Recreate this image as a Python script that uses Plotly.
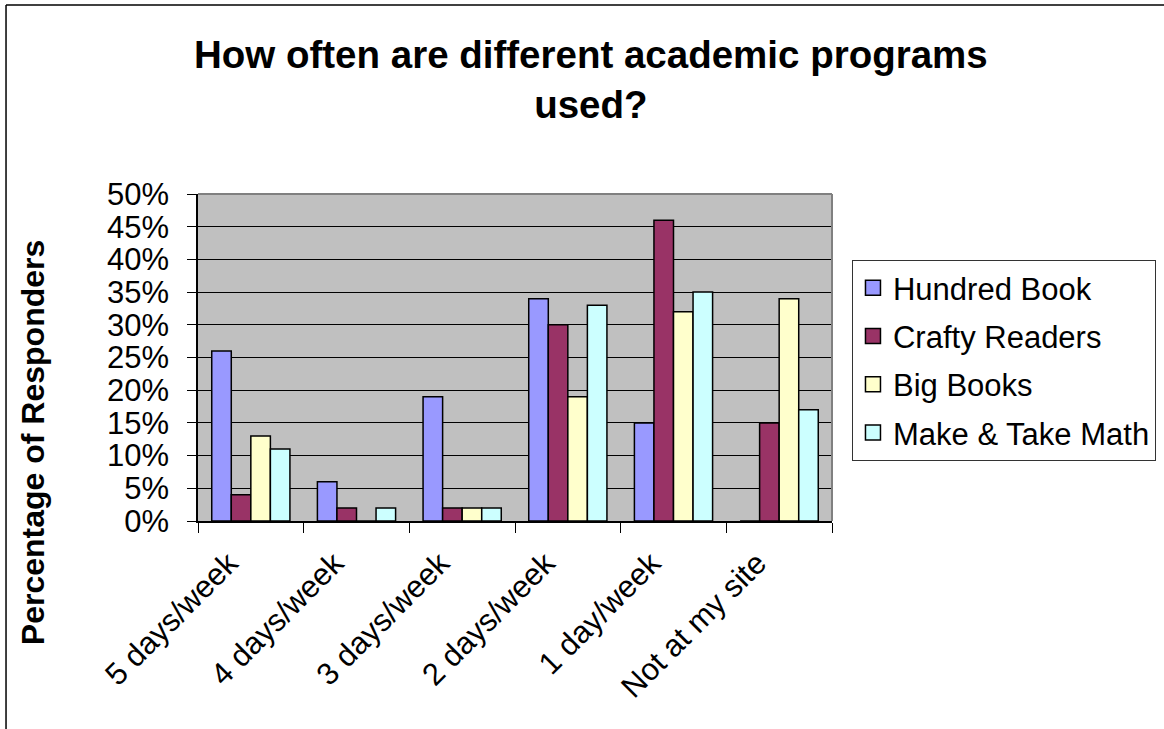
import plotly.graph_objects as go

# Frequency categories on the x axis
categories = ["5 days/week", "4 days/week", "3 days/week", "2 days/week", "1 day/week", "Not at my site"]

# Share of responders per program (fractions)
hundred_book = [0.26, 0.06, 0.19, 0.34, 0.15, 0.00]
crafty_readers = [0.04, 0.02, 0.02, 0.30, 0.46, 0.15]
big_books = [0.13, 0.00, 0.02, 0.19, 0.32, 0.34]
make_take_math = [0.11, 0.02, 0.02, 0.33, 0.35, 0.17]

series = [
    ("Hundred Book", hundred_book, "#9999FF"),
    ("Crafty Readers", crafty_readers, "#993366"),
    ("Big Books", big_books, "#FFFFCC"),
    ("Make & Take Math", make_take_math, "#CCFFFF"),
]

FONT = "Liberation Sans, Arial, sans-serif"

fig = go.Figure()
for i, (name, vals, color) in enumerate(series):
    fig.add_trace(go.Bar(
        name=name, x=categories, y=vals,
        marker=dict(color=color, line=dict(color="black", width=1.5)),
        showlegend=False,
    ))
    # square swatch for the legend entry
    fig.add_trace(go.Scatter(
        name=name, x=[None], y=[None], mode="markers",
        marker=dict(symbol="square", size=15, color=color,
                    line=dict(color="black", width=1.5)),
        legendgroup=f"g{i}", showlegend=True,
    ))

fig.update_layout(
    width=1164, height=729,
    margin=dict(l=198, r=332, t=194, b=208, autoexpand=False),
    paper_bgcolor="white",
    plot_bgcolor="#C0C0C0",
    barmode="group",
    bargap=0.26,
    bargroupgap=0,
    font=dict(family=FONT, color="black", size=31),
    showlegend=True,
    legend=dict(
        x=1.0315, y=0.798, xanchor="left", yanchor="top",
        bordercolor="#333333", borderwidth=1, bgcolor="white",
        font=dict(size=31), tracegroupgap=5, itemwidth=30,
    ),
    xaxis=dict(
        showline=True, linecolor="black", linewidth=1.5,
        ticks="outside", ticklen=10, tickcolor="black", tickwidth=1,
        tickson="boundaries", tickangle=-45,
        tickfont=dict(size=31), showgrid=False,
        ticklabelshift=-22, ticklabelstandoff=10,
    ),
    yaxis=dict(
        range=[0, 0.5], dtick=0.05, tickformat=".0%",
        showline=True, linecolor="black", linewidth=1.5,
        ticks="outside", ticklen=9, tickcolor="black", tickwidth=1,
        showgrid=True, gridcolor="black", gridwidth=1,
        tickfont=dict(size=31), zeroline=False, ticklabelstandoff=12,
    ),
)

# Chart title
fig.add_annotation(
    text="<b>How often are different academic programs<br>used?</b>",
    xref="paper", yref="paper", x=0.62, y=1.349,
    xanchor="center", yanchor="middle", showarrow=False,
    font=dict(size=38.5, family=FONT),
)

# Y axis title
fig.add_annotation(
    text="<b>Percentage of Responders</b>",
    xref="paper", yref="paper", x=-0.26, y=0.2385,
    xanchor="center", yanchor="middle", showarrow=False,
    textangle=-90, font=dict(size=32, family=FONT),
)

# Gray plot-area border on the top and right edges
fig.add_shape(type="line", xref="paper", yref="paper", x0=0, x1=1, y0=1, y1=1,
              line=dict(color="#808080", width=2), layer="above")
fig.add_shape(type="line", xref="paper", yref="paper", x0=1, x1=1, y0=0, y1=1,
              line=dict(color="#808080", width=2), layer="above")

# Outer chart frame (top and left edges)
fig.add_shape(type="line", xref="paper", yref="paper", x0=-0.3028, x1=1.53, y0=1.578, y1=1.578,
              line=dict(color="black", width=1.5))
fig.add_shape(type="line", xref="paper", yref="paper", x0=-0.3028, x1=-0.3028, y0=-0.65, y1=1.578,
              line=dict(color="black", width=1.5))

fig.write_html("out.html")
